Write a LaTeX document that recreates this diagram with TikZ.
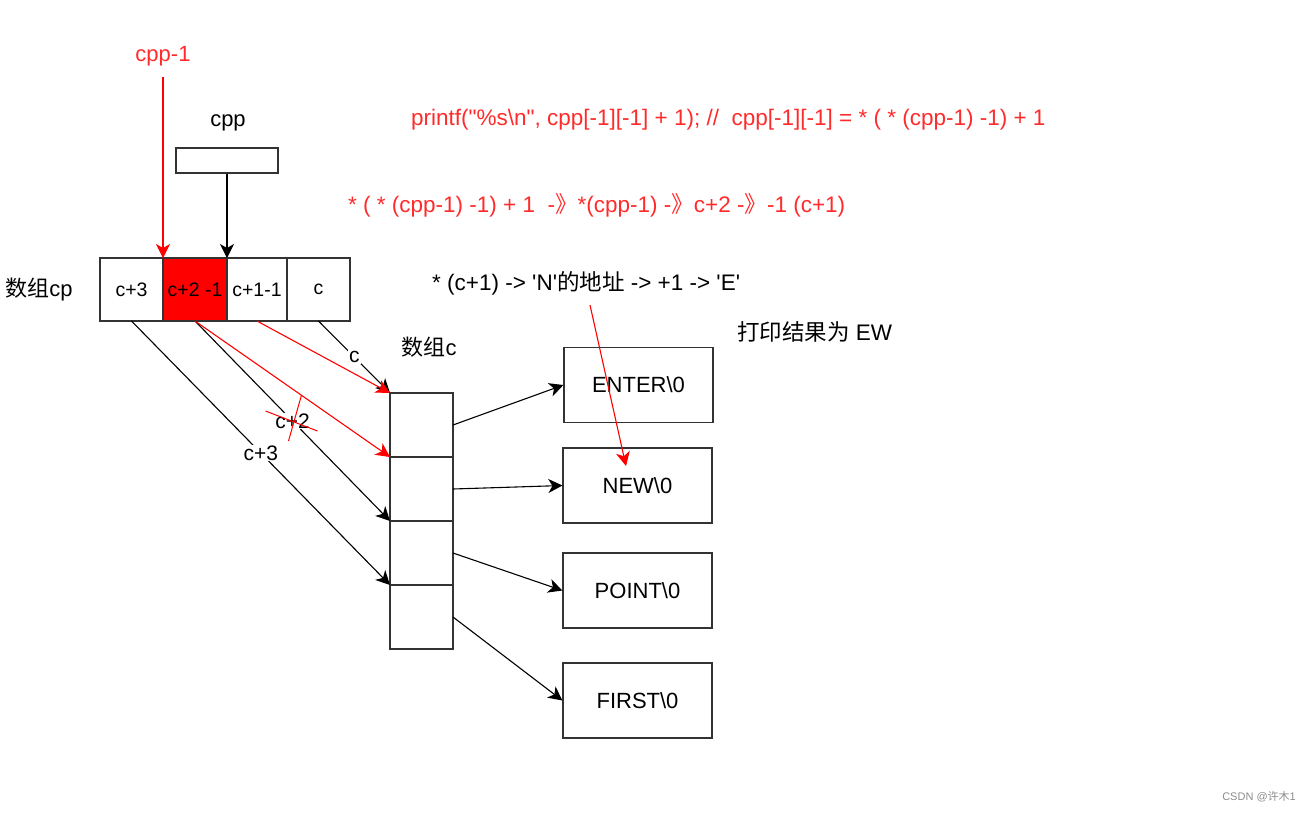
\documentclass[tikz,border=0pt]{standalone}
\usepackage{fontspec}
\setmainfont{Liberation Sans}[Ligatures=TeXOff]
\newfontfamily\cjk{Noto Sans CJK SC}
\usetikzlibrary{arrows.meta,positioning,calc}
\definecolor{ptrred}{HTML}{FF0000}
\definecolor{notered}{HTML}{FF2B2B}
\definecolor{edgegray}{HTML}{333333}
\newcommand{\fsz}[1]{\fontsize{#1}{#1}\selectfont}
\newcommand{\dbl}{{\cjk 》}}

\begin{document}
\begin{tikzpicture}[
  x=1pt, y=-1pt,
  cell/.style={draw=edgegray, line width=1.2pt, minimum width=63pt,
               minimum height=63pt, inner sep=0pt, outer sep=0pt,
               font=\fsz{19.5}},
  slot/.style={draw=edgegray, line width=1.2pt, minimum width=63pt,
               minimum height=64pt, inner sep=0pt, outer sep=0pt},
  strbox/.style={draw=edgegray, line width=1.2pt, minimum width=149pt,
                 minimum height=75pt, inner sep=0pt, font=\fsz{22}},
  lbl/.style={font=\fsz{22}, inner sep=1pt},
  note/.style={font=\fsz{22.5}, text=notered, inner sep=0pt, anchor=west},
  arr/.style={draw, line width=1.1pt,
              -{Stealth[length=14pt, width=14pt, inset=4pt]}},
  redarr/.style={arr, ptrred},
  tag/.style={fill=white, font=\fsz{21}, inner sep=1pt}
]
\useasboundingbox (0,0) rectangle (1306,812);

% array cp
\node[cell] (cp3) at (131.5,289.5) {c+3};
\node[cell, fill=ptrred, minimum width=64pt, right=0pt of cp3] (cp2) {c+2 -1};
\node[cell, minimum width=60pt, right=0pt of cp2] (cp1) {c+1-1};
\node[cell, right=0pt of cp1] (cp0) {c};
\node[lbl] (cplbl) at (39,290) {{\cjk 数组}cp};

% pointer cpp
\node[draw=edgegray, line width=1.2pt, minimum width=102pt,
      minimum height=25pt, inner sep=0pt] (cppbox) at (227,160.5) {};
\node[lbl] (cpplbl) at (228,123) {cpp};
\node[lbl, text=notered] (cppm1) at (163,56) {cpp-1};
\draw[arr] (cppbox.south) -- (cp1.north west);
\draw[redarr, shorten <=10pt] (cppm1) -- (cp2.north west);

% array c
\node[lbl] (clbl) at (429,347) {{\cjk 数组}c};
\node[slot] (c0) at (421.5,425) {};
\node[slot, below=0pt of c0] (c1) {};
\node[slot, below=0pt of c1] (c2) {};
\node[slot, below=0pt of c2] (c3) {};

% strings
\node[strbox] (enter) at (638.5,385) {ENTER\textbackslash 0};
\node[strbox] (new) at (637.5,485.5) {NEW\textbackslash 0};
\node[strbox] (point) at (637.5,590.5) {POINT\textbackslash 0};
\node[strbox] (first) at (637.5,700.5) {FIRST\textbackslash 0};

\draw[arr] (c0.east) -- (enter.west);
\draw[arr] (c1.east) -- (new.west);
\draw[arr] (c2.east) -- (point.west);
\draw[arr] (c3.east) -- (first.west);

% cp -> c
\draw[arr] (cp0.south) -- (c0.north west) node[tag, midway] (tagc) {c};
\draw[arr] (cp2.south) -- (c2.north west) node[tag, midway] (plus2) {c+2};
\draw[arr] (cp3.south) -- (c3.north west) node[tag, midway] (plus3) {c+3};
\draw[redarr] (cp1.south) -- (c0.north west);
\draw[redarr] (cp2.south) -- (c1.north west);
\draw[ptrred, line width=1pt] ($(plus2)+(-27,-10)$) -- ($(plus2)+(25,10)$);
\draw[ptrred, line width=1pt] ($(plus2)+(9,-26)$) -- ($(plus2)+(-4,20)$);

% notes
\node[note] (stmt) at (411,120)
  {printf("\%s\textbackslash n", cpp[-1][-1] + 1); //~ cpp[-1][-1] = * ( * (cpp-1) -1) + 1};
\node[note] (steps) at (348,205)
  {* ( * (cpp-1) -1) + 1 ~-\dbl*(cpp-1) -\dbl c+2 -\dbl-1 (c+1)};
\node[note, text=black] (deref) at (432,283)
  {* (c+1) -> 'N'{\cjk 的地址} -> +1 -> 'E'};
\node[note, text=black] (result) at (737,332) {{\cjk 打印结果为} EW};
\node[font=\fsz{11}, text=black!45, anchor=east, inner sep=0pt] (mark)
  at (1296,797) {CSDN @{\cjk 许木}1};

\coordinate (nptr) at (590,305);
\coordinate (nchar) at (626,466);
\draw[redarr] (nptr) -- (nchar);
\end{tikzpicture}
\end{document}
